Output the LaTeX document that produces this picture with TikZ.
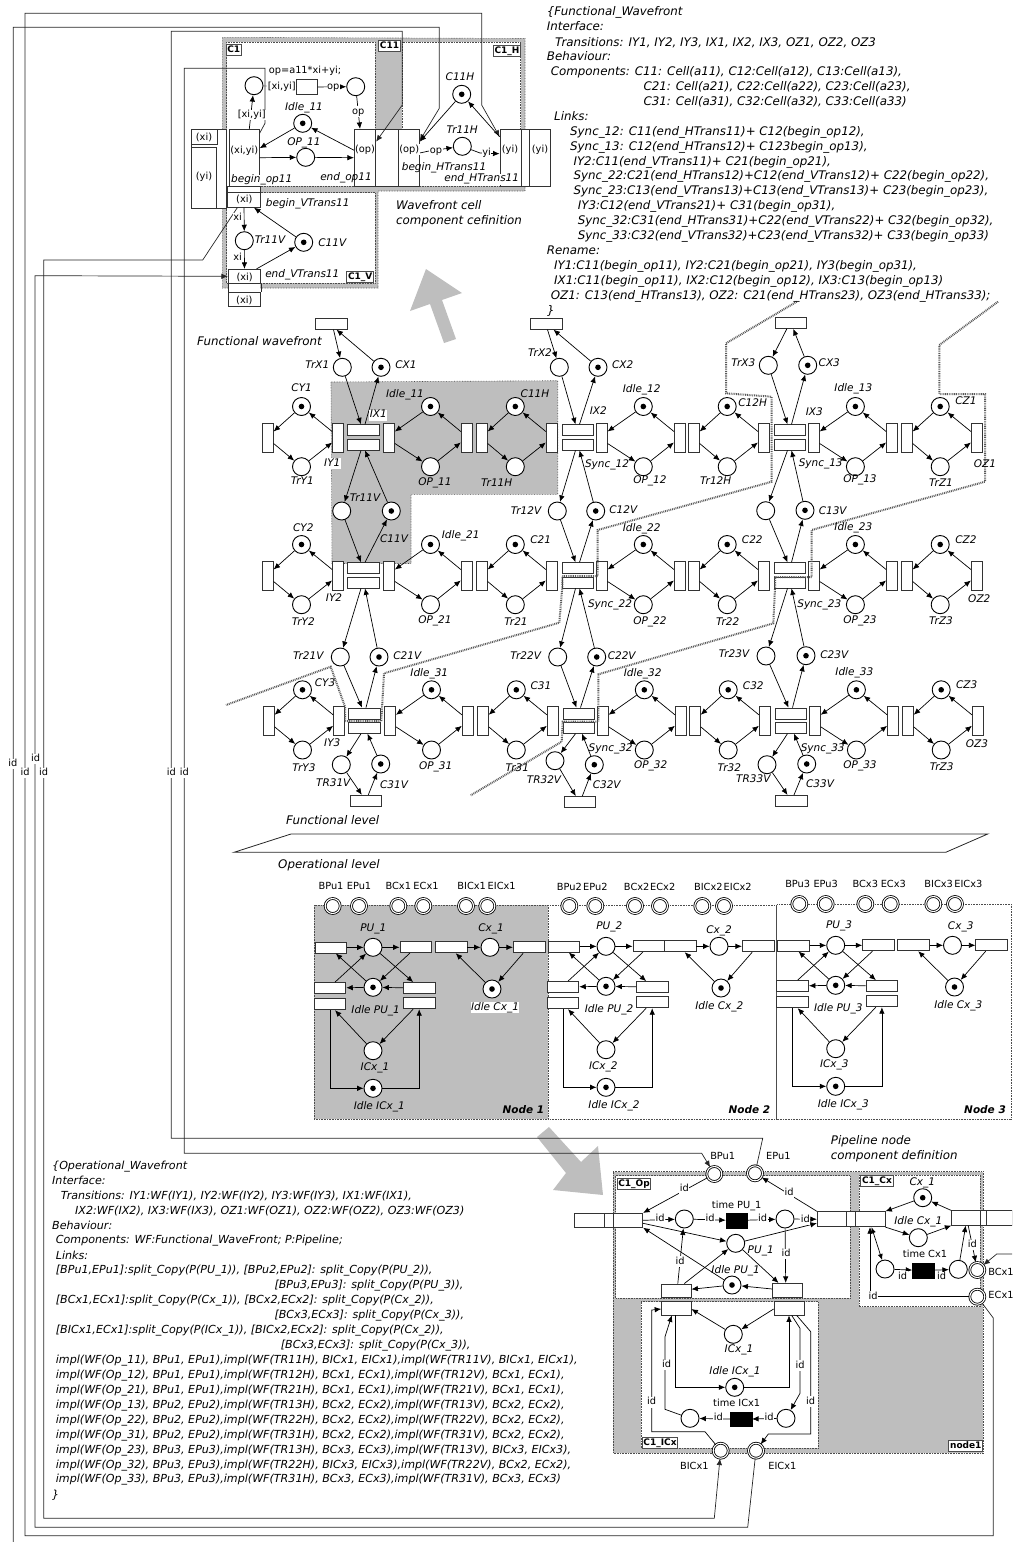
\documentclass[tikz,border=0pt]{standalone}
\usepackage{fontspec}
\setmainfont{DejaVu Sans}
\usetikzlibrary{arrows.meta}
\definecolor{bggray}{HTML}{BEBEBE}

\begin{document}
\begin{tikzpicture}[x=1pt,y=-1pt,
  pl/.style={circle,draw,fill=white,line width=0.9pt,minimum size=18pt,inner sep=0pt},
  tok/.style={pl,path picture={\fill[black] (path picture bounding box.center) circle (2.8pt);}},
  term/.style={circle,draw,fill=white,line width=0.8pt,double,double distance=1.1pt,minimum size=15pt,inner sep=0pt},
  bx/.style={rectangle,draw=black!80,fill=white,line width=0.8pt,inner sep=0pt},
  hbar/.style={bx,minimum width=31.7pt,minimum height=11pt},
  vbar/.style={bx,minimum width=11pt,minimum height=29pt},
  blk/.style={rectangle,fill=black,draw=black,inner sep=0pt,minimum width=21.7pt,minimum height=14.4pt},
  flow/.style={-{Latex[length=6.5pt,width=5.5pt]},line width=0.7pt},
  wire/.style={line width=0.8pt,draw=black!85},
  region/.style={draw=black!70,densely dotted,line width=0.6pt},
  nodeb/.style={draw=black!65,dash pattern=on 0.9pt off 0.9pt,line width=2pt},
  lab/.style={font=\fontsize{10.5}{12}\selectfont\itshape,inner sep=0.5pt,text height=7.8pt,text depth=2.2pt},
  up/.style={font=\fontsize{9.8}{11}\selectfont,inner sep=0.5pt,text height=7.4pt,text depth=2.2pt},
  idl/.style={up,fill=white},
  tag/.style={font=\fontsize{9}{10}\selectfont\bfseries,draw=black!70,fill=white,line width=0.9pt,inner sep=1.2pt,text height=7pt,text depth=1.6pt},
  txt/.style={font=\fontsize{11.85}{13}\selectfont\itshape,anchor=west,inner sep=0pt,text height=8.4pt,text depth=2.4pt},
  txtlow/.style={txt,font=\fontsize{11.1}{13}\selectfont\itshape}
]
  \useasboundingbox (0,0) rectangle (1012,1542);
  \clip (0,0) rectangle (1012,1542);

  % wavefront cell component
  \draw[region,fill=bggray] (222.3,37.3) -- (525,38.5) -- (525,191) -- (378,191) -- (378,288) -- (222.3,288) -- cycle;
  \draw[region,fill=white] (226.7,42.3) rectangle (375,186);
  \draw[region,fill=white] (402.3,42.3) rectangle (520.7,186);
  \draw[region,fill=white] (226.7,192.5) rectangle (375,283);
  \fill[bggray] (426,269) -- (462,293) -- (442,300) -- (456,339) -- (444,343) -- (430,304) -- (410,311) -- cycle;

  % gray cell of the wavefront
  \draw[region,fill=bggray] (331,382) -- (557.7,380.7) -- (557.7,494.3) -- (411,494.3) -- (411,563.5) -- (332,563.5) -- cycle;

  % pipeline nodes
  \draw[region,fill=bggray] (314,905) rectangle (548.3,1119.3);
  \draw[region] (548.3,905) rectangle (776.7,1119.3);
  \draw[region] (776.7,904.7) rectangle (1011.5,1119.3);
  \fill[bggray] (603,1195) -- (598,1146) -- (581,1162) -- (549,1127) -- (537,1137) -- (566,1173) -- (553,1190) -- cycle;

  % pipeline component
  \draw[region,fill=bggray] (613.3,1171.7) rectangle (983.3,1453);
  \draw[region,fill=white] (615.7,1175.7) rectangle (850,1298.3);
  \draw[region,fill=white] (859.3,1175) rectangle (980,1306.7);
  \draw[region,fill=white] (641,1301.7) rectangle (818.3,1448);

  % boxes of the cell
  \node[bx,minimum width=34.7pt,minimum height=79pt] (xiOuter) at (208.7,168.8) {};
  \node[bx,minimum width=26pt,minimum height=15.4pt] (xiLeft) at (204.3,137) {};
  \node[bx,minimum width=24.7pt,minimum height=60.6pt] (yiLeft) at (203.7,178) {};
  \node[bx,minimum width=30pt,minimum height=56.7pt] (xyBox) at (244.3,157.7) {};
  \node[bx,minimum width=21.4pt,minimum height=56.7pt] (opBoxA) at (365,157.7) {};
  \node[bx,minimum width=22.6pt,minimum height=56.7pt] (opBoxB) at (387,157.7) {};
  \node[bx,minimum width=21pt,minimum height=56.7pt] (opBoxC) at (408.8,157.7) {};
  \node[bx,minimum width=21.7pt,minimum height=56.7pt] (yiBoxA) at (510.8,157.7) {};
  \node[bx,minimum width=7.6pt,minimum height=56.7pt] (yiBoxB) at (525.5,157.7) {};
  \node[bx,minimum width=20.7pt,minimum height=56.7pt] (yiBoxC) at (539.7,157.7) {};
  \node[bx,minimum width=33.4pt,minimum height=6pt] (bvTop) at (244,189.7) {};
  \node[bx,minimum width=33.4pt,minimum height=14.6pt] (bvBox) at (244,200) {};
  \node[bx,minimum width=32.4pt,minimum height=14pt] (evBox) at (244.5,276.3) {};
  \node[bx,minimum width=32.4pt,minimum height=14pt] (evLow) at (244.5,299) {};
  \fill[white] (229,284) rectangle (260,291.5);
  \draw[wire] (evBox.south west) -- (evLow.north west);
  \draw[wire] (evBox.south east) -- (evLow.north east);
  \node[bx,minimum width=20.6pt,minimum height=14.3pt] (calcBox) at (307,87) {};

  \node[pl] (inPl) at (254,85.7) {};
  \node[pl] (opPl) at (355.7,86.7) {};
  \node[tok] (idleCell) at (302.7,123.3) {};
  \node[pl] (opCell) at (305.7,157.3) {};
  \node[tok] (hCap) at (461.7,94.3) {};
  \node[pl] (hTr) at (462.3,146.3) {};
  \node[pl] (vTr) at (244.3,240.7) {};
  \node[tok] (vCap) at (303.7,242.3) {};

  % long wires
  \coordinate (leftEnd) at (13.3,1542);
  \coordinate (rightEnd) at (1012,1254);
  \node[term] (tBPu) at (714.3,1174) {};
  \node[term] (tEPu) at (755,1173.3) {};
  \node[term] (tBCx) at (977.3,1270) {};
  \node[term] (tECx) at (977.3,1296.7) {};
  \node[term] (tBICx) at (720.7,1450.7) {};
  \node[term] (tEICx) at (756,1450.7) {};
  \draw[wire,flow] (leftEnd) -- (13.3,27.3) -- (439.3,27.3) -- (439.3,108.3) -- ([yshift=17pt]opBoxC.east);
  \draw[wire,flow] (tECx) -- (993.3,1318) -- (993.3,1535.7) -- (25,1535.7) -- (25,13.3) -- (481.7,13.3) -- (481.7,105) -- ([yshift=21pt]yiBoxA.west);
  \draw[wire,flow] (tEPu) -- (762.7,1138.3) -- (171.3,1138.3) -- (171.3,31.3) -- (402.3,31.3) -- (402.3,105) -- ([yshift=16pt]opBoxA.east);
  \draw[wire,flow] ([yshift=24.6pt]xyBox.east) -- (265,123.3) -- (265,68.3) -- (184.3,68.3) -- (184.3,1153.3) -- (701.7,1153.3) -- (tBPu);
  \draw[wire,flow] ([xshift=-6.7pt]bvBox.south) -- (202.7,260) -- (43.7,260) -- (43.7,1518.3) -- (714.3,1518.3) -- (tBICx);
  \draw[wire,flow] (tEICx) -- (747.7,1527.3) -- (35,1527.3) -- (35,275.7) -- (evBox.west);
  \draw[wire,flow] (rightEnd) -- (996.7,1254) -- (tBCx);

  % cell connectors
  \draw[flow] (idleCell) -- ([yshift=9.5pt]xyBox.east);
  \draw[flow] (xyBox.east) -- (opCell);
  \draw[flow] (opCell) -- (opBoxA.west);
  \draw[flow] ([yshift=7.5pt]opBoxA.west) -- (idleCell);
  \draw[flow] ([xshift=5pt]xyBox.north) -- (inPl);
  \draw (inPl) -- (calcBox);
  \draw[flow] (calcBox) -- (opPl);
  \draw[flow] (opPl) -- ([xshift=-5pt]opBoxA.north);
  \draw[flow] (hCap) -- ([yshift=16pt]opBoxC.east);
  \draw[flow] ([yshift=21pt]yiBoxA.west) -- (hCap);
  \draw[flow] ([yshift=4.7pt]opBoxC.east) -- (429,151) -- (hTr);
  \draw[flow] (hTr) -- (480,153) -- ([yshift=4pt]yiBoxA.west);
  \draw[flow] (bvBox) -- (vTr);
  \draw[flow] (vTr) -- (evBox);
  \draw[flow] ([xshift=12pt]evBox.north) -- (vCap);
  \draw[flow] (vCap) -- ([xshift=10pt]bvBox.south);

  % wavefront grid
  \foreach \rw/\ry/\rx in {1/437.5/0,2/575.5/0,3/720.8/1}{
    \foreach \cl/\ta/\pc/\tb in {1/267.7/301.5/338,2/389/430.5/466.7,3/481.8/515.3/551.7,4/601.7/643.3/679.8,5/693.8/727.2/763.8,6/813.8/855.4/892,7/906.8/940.2/976.8}{
      \node[vbar] (ta\rw\cl) at (\ta+\rx,\ry) {};
      \node[vbar] (tb\rw\cl) at (\tb+\rx,\ry) {};
      \node[tok] (pt\rw\cl) at (\pc+\rx,\ry-31) {};
      \node[pl] (pb\rw\cl) at (\pc+\rx,\ry+29.2) {};
      \draw[flow] (pt\rw\cl) -- ([yshift=6pt]ta\rw\cl.east);
      \draw[flow] ([yshift=-6pt]ta\rw\cl.east) -- (pb\rw\cl);
      \draw[flow] (pb\rw\cl) -- ([yshift=-5pt]tb\rw\cl.west);
      \draw[flow] ([yshift=6pt]tb\rw\cl.west) -- (pt\rw\cl);
    }
    \foreach \dc/\dx in {1/363.5,2/578,3/790}{
      \node[hbar] (dt\rw\dc) at (\dx+\rx,\ry-7.3) {};
      \node[hbar] (db\rw\dc) at (\dx+\rx,\ry+7) {};
    }
  }
  \foreach \cc/\xa/\ya/\xb/\yb/\tx/\ty/\sa/\sb in {1/342.3/367.3/381/367.3/331.5/323.8/2/5,2/559.3/367.3/598/367.3/546.5/323.8/1/7,3/768.3/365.3/807.7/365.3/790.8/323/-4/2.5}{
    \node[hbar] (tx\cc) at (\tx,\ty) {};
    \node[pl] (xp\cc) at (\xa,\ya) {};
    \node[tok] (xc\cc) at (\xb,\yb) {};
    \draw[flow] ([xshift=\sa pt]tx\cc.south) -- (xp\cc);
    \draw[flow] (xc\cc) -- ([xshift=\sb pt]tx\cc.south);
    \draw[flow] (xp\cc) -- ([xshift=-2.5pt]dt1\cc.north);
    \draw[flow] ([xshift=1.5pt]dt1\cc.north) -- (xc\cc);
  }
  \foreach \cc/\xa/\ya/\xb/\yb in {1/341.7/511/391.3/511,2/557.3/511/595.7/511,3/765.7/510.7/805/510.3}{
    \node[pl] (va\cc) at (\xa,\ya) {};
    \node[tok] (vc\cc) at (\xb,\yb) {};
    \draw[flow] ([xshift=-2.5pt]db1\cc.south) -- (va\cc);
    \draw[flow] (vc\cc) -- ([xshift=1.5pt]db1\cc.south);
    \draw[flow] (va\cc) -- ([xshift=-2.5pt]dt2\cc.north);
    \draw[flow] ([xshift=1.5pt]dt2\cc.north) -- (vc\cc);
  }
  \foreach \cc/\xa/\ya/\xb/\yb in {1/340.3/657/379/657,2/557.7/657/596.7/657,3/766/656/806/655.7}{
    \node[pl] (wa\cc) at (\xa,\ya) {};
    \node[tok] (wc\cc) at (\xb,\yb) {};
    \draw[flow] ([xshift=-2.5pt]db2\cc.south) -- (wa\cc);
    \draw[flow] (wc\cc) -- ([xshift=1.5pt]db2\cc.south);
    \draw[flow] (wa\cc) -- ([xshift=-2.5pt]dt3\cc.north);
    \draw[flow] ([xshift=1.5pt]dt3\cc.north) -- (wc\cc);
  }
  \foreach \cc/\xa/\ya/\xb/\yb/\bx/\by in {1/341.3/764.7/380.7/764/365.8/800.7,2/555/760.7/594.3/764.7/579.8/802,3/767/764.7/806.7/764/791.5/800.8}{
    \node[pl] (ya\cc) at (\xa,\ya) {};
    \node[tok] (yc\cc) at (\xb,\yb) {};
    \node[hbar] (by\cc) at (\bx,\by) {};
    \draw[flow] ([xshift=-3.5pt]db3\cc.south) -- (ya\cc);
    \draw[flow] (yc\cc) -- ([xshift=3pt]db3\cc.south);
    \draw[flow] (ya\cc) -- ([xshift=-4pt]by\cc.north);
    \draw[flow] ([xshift=2.5pt]by\cc.north) -- (yc\cc);
  }

  % node boundaries
  \draw[nodeb] (796.7,301.7) -- (726,343.3) -- (726,393.3) -- (771.7,396.7) -- (771.7,481.7) -- (597.7,530) -- (597.7,576) -- (562.3,576) -- (562.3,587) -- (559.3,622.7) -- (384,673.3) -- (381.3,721) -- (345,721) -- (345,706.7) -- (330.7,666.7) -- (226,705);
  \draw[nodeb] (998,301.7) -- (939.3,345) -- (939.3,394) -- (985,394) -- (985,481.7) -- (811.7,530) -- (811.7,577) -- (775,577) -- (775,588) -- (773.3,623.3) -- (598.3,674.3) -- (598.3,721.5) -- (562.7,721.5) -- (561.7,741.7) -- (470.7,795.3);

  % levels
  \draw[wire] (291,834) -- (987.7,834) -- (945.7,852.3) -- (234,852.3) -- cycle;

  % pipeline nodes at the operational level
  \foreach \n/\dx/\dy/\cdx in {1/0/0/0,2/233/-1/229,3/462.7/-2/462.5}{
    \begin{scope}[shift={(\dx,\dy)}]
      \node[hbar] (oa\n) at (330.8,947.6) {};
      \node[pl] (opu\n) at (373,947.3) {};
      \node[hbar] (ob\n) at (415.8,947.3) {};
      \node[tok] (oi\n) at (373,987.3) {};
      \node[hbar] (oe\n) at (330,988) {};
      \node[hbar] (of\n) at (419.2,988) {};
      \node[hbar] (og\n) at (330,1004.3) {};
      \node[hbar] (oh\n) at (419.2,1003.3) {};
      \node[pl] (oc\n) at (373,1050.7) {};
      \node[tok] (oj\n) at (373,1088.3) {};
      \draw[flow] (oa\n) -- (opu\n);
      \draw[flow] (opu\n) -- (ob\n);
      \draw[flow] ([xshift=-6pt]ob\n.south) -- (oi\n);
      \draw[flow] (opu\n) -- ([xshift=-6pt]of\n.north);
      \draw[flow] (oi\n) -- ([xshift=5pt]oa\n.south);
      \draw[flow] ([xshift=5pt]oe\n.north) -- (opu\n);
      \draw[flow] (of\n) -- (oi\n);
      \draw[flow] (oi\n) -- (oe\n);
      \draw[flow] (oc\n) -- ([xshift=5pt]og\n.south);
      \draw[flow] ([xshift=-6pt]oh\n.south) -- (oc\n);
      \draw[flow] (og\n.south) |- (oj\n);
      \draw[flow] (oj\n) -| (oh\n.south);
    \end{scope}
    \begin{scope}[shift={(\cdx,\dy)}]
      \node[hbar] (oq\n) at (451.2,947.3) {};
      \node[pl] (ocx\n) at (490,947.3) {};
      \node[hbar] (or\n) at (529.2,947.3) {};
      \node[tok] (ok\n) at (492,989) {};
      \draw[flow] (oq\n) -- (ocx\n);
      \draw[flow] (ocx\n) -- (or\n);
      \draw[flow] (ok\n) -- ([xshift=4.5pt]oq\n.south);
      \draw[flow] ([xshift=-6pt]or\n.south) -- (ok\n);
    \end{scope}
  }
  \foreach \tx/\ty [count=\i] in {332.7/906,359/906,398.3/906,423.3/906,466/906,487.3/906,569.3/906,595.3/906,635/906,660/906,702.3/906,724/906,799.3/904,825.7/904,865.3/904,890.7/904,933.3/904,955/904}{
    \node[term] (top\i) at (\tx,\ty) {};
  }

  % pipeline component, operation
  \node[bx,minimum width=30pt,minimum height=14pt] (lfA) at (589.3,1220.3) {};
  \node[bx,minimum width=9pt,minimum height=14pt] (lfB) at (608.8,1220.3) {};
  \node[bx,minimum width=29.4pt,minimum height=14pt] (lfC) at (628,1220.3) {};
  \node[bx,minimum width=29.4pt,minimum height=15pt] (mdA) at (832,1219.2) {};
  \node[bx,minimum width=8.3pt,minimum height=15pt] (mdB) at (850.8,1219.2) {};
  \node[bx,minimum width=30pt,minimum height=15pt] (mdC) at (870,1219.2) {};
  \node[bx,minimum width=29pt,minimum height=14.3pt] (rgA) at (966.2,1218) {};
  \node[bx,minimum width=5.3pt,minimum height=14.3pt] (rgB) at (983.3,1218) {};
  \node[bx,minimum width=26pt,minimum height=14.3pt] (rgC) at (999,1218) {};
  \node[pl] (timeIn) at (684.3,1219) {};
  \node[blk] (timePU) at (736.8,1220.5) {};
  \node[pl] (timeOut) at (785,1219) {};
  \node[pl] (puPl) at (735.7,1243.3) {};
  \node[tok] (idlePU) at (732,1285) {};
  \node[bx,minimum width=29.4pt,minimum height=13.7pt] (opA) at (676.3,1290.8) {};
  \node[bx,minimum width=29.6pt,minimum height=14.4pt] (opB) at (787.5,1290.5) {};
  \node[bx,minimum width=29.4pt,minimum height=14pt] (opC) at (676.3,1308) {};
  \node[bx,minimum width=30pt,minimum height=14pt] (opD) at (789,1308) {};
  \node[pl] (icxPl) at (733.3,1334.3) {};
  \node[tok] (idleICx) at (734.7,1387.3) {};
  \node[pl] (ticOut) at (690,1418.3) {};
  \node[blk] (timeIC) at (741,1419.2) {};
  \node[pl] (ticIn) at (786,1418.3) {};
  \node[tok] (cxPl) at (922.7,1197.7) {};
  \node[pl] (idleCx) at (918.3,1237.7) {};
  \node[pl] (tcxIn) at (885,1269) {};
  \node[blk] (timeCx) at (923.3,1270.5) {};
  \node[pl] (tcxOut) at (958.3,1269.3) {};

  \draw[flow] (tBPu) -- (lfC.north east);
  \draw[flow] (mdA.north west) -- (tEPu);
  \draw[flow] (lfC.east) -- (timeIn);
  \draw[flow] (timeIn) -- (timePU);
  \draw[flow] (timePU) -- (timeOut);
  \draw[flow] (timeOut) -- (mdA.west);
  \draw[flow] ([yshift=-3pt]lfC.east) -- (puPl);
  \draw[flow] (puPl) -- ([yshift=-4pt]mdA.west);
  \draw[flow] (idlePU) -- (lfC.south east);
  \draw[flow] ([xshift=1.5pt]opA.north) -- (timeIn);
  \draw[flow] ([xshift=8pt]opA.north) -- (puPl);
  \draw[flow] (idlePU) -- (opA);
  \draw[flow] (opB) -- (idlePU);
  \draw[flow] (puPl) -- ([xshift=-9pt]opB.north);
  \draw[flow] (timeOut) -- ([xshift=-1.8pt]opB.north);
  \draw[flow] (icxPl) -- ([yshift=-1pt]opC.east);
  \draw[flow] ([yshift=-1pt]opD.west) -- (icxPl);
  \draw[flow] ([xshift=-1pt]opC.south) |- (idleICx);
  \draw[flow] (idleICx) -| (opD.south);
  \draw[flow] (tBICx) -- (705,1431.7) -- (651.7,1431.7) -- (651.7,1310) -- ([yshift=-1pt]opC.west);
  \draw[flow] (ticOut) -- (665,1409.3) -- (665,1336.7) -- ([xshift=-4.5pt]opC.south);
  \draw[flow] ([xshift=2.7pt]opD.south) -- (800,1328.3) -- (800,1393.3) -- (ticIn);
  \draw[flow] ([xshift=7.7pt]opD.south) -- (810.7,1331.7) -- (810.7,1434) -- (768.3,1434) -- (tEICx);
  \draw[flow] (ticIn) -- (timeIC);
  \draw[flow] (timeIC) -- (ticOut);
  \draw[flow] (mdC.south east) -- (idleCx);
  \draw[flow] (cxPl) -- (mdC.north east);
  \draw[flow] (rgA.north west) -- (cxPl);
  \draw[flow] (idleCx) -- (rgA.south west);
  \draw[{Latex[length=6pt,width=5pt]}-{Latex[length=6pt,width=5pt]},line width=0.7pt] ([xshift=1.5pt]mdC.south) -- (tcxIn);
  \draw[flow] (tECx) -- (870,1296.7) -- ([xshift=0pt]mdC.south);
  \draw[flow] (tcxIn) -- (timeCx);
  \draw[flow] (timeCx) -- (tcxOut);
  \draw[flow] (tcxOut) -- ([xshift=-0.5pt]rgA.south);
  \draw[flow] ([xshift=2pt]rgA.south) -- (tBCx);

  % upright labels
  \foreach \lx/\ly/\ltxt [count=\i] in {305/70.7/op=a11*xi+yi;,281.7/87.3/{[xi,yi]},251.7/115/{[xi,yi]},333.3/86.7/op,358.3/111.7/op,244.3/150.7/{(xi,yi)},365/149.7/(op),409.3/149.7/(op),510/150.3/(yi),540/150/(yi),204/137.7/(xi),204/177.3/(yi),244.3/200/(xi),244.7/277.7/(xi),244.3/300.7/(xi),436/151/op,486.7/153/yi,237.7/218.3/xi,237.7/257.7/xi}{
    \node[idl] (cellTxt\i) at (\lx,\ly) {\ltxt};
  }
  \foreach \lx/\ly/\ltxt [count=\i] in {331/886.7/BPu1,359/886.7/EPu1,398.3/886.7/BCx1,426/886.7/ECx1,471.7/886.7/BICx1,501.7/886.7/EICx1,569.3/887.7/BPu2,595.3/887.7/EPu2,636.7/887.7/BCx2,662.7/887.7/ECx2,708.3/887.7/BICx2,737.7/887.7/EICx2,797.7/885/BPu3,825.7/885/EPu3,865.3/885/BCx3,893.3/885/ECx3,938.7/885/BICx3,968.3/885/EICx3,722.7/1156.7/BPu1,778.3/1156.7/EPu1,1001/1273/BCx1,1001/1295.7/ECx1,694.3/1467.3/BICx1,782.3/1467.3/EICx1,736.7/1206/time PU\_1,925/1255/time Cx1,736.7/1404/time ICx1}{
    \node[up] (termTxt\i) at (\lx,\ly) {\ltxt};
  }
  \foreach \lx/\ly [count=\i] in {12.8/764,25/773,35.5/759,43.7/773,171.3/773,184.3/773,684.3/1189,789/1193.3,660/1219.3,710/1219.3,762.7/1219.3,805.3/1220,680/1261.7,786/1254,666.7/1365,651.7/1402.3,800/1365.7,810.7/1401.7,769/1418.3,718.3/1418.3,873/1296.7,902.7/1276.7,941.7/1277.3,972.3/1245}{
    \node[idl] (idTxt\i) at (\lx,\ly) {id};
  }

  % italic labels
  \foreach \lx/\ly/\ltxt [count=\i] in {304/107.3/Idle\_11,304/142.7/OP\_11,346/177.7/end\_op11,270/241/Tr11V,332.3/243.3/C11V,460/77.3/C11H,462.3/131/Tr11H,444/167.3/begin\_HTrans11,317.3/366/TrX1,406/366/CX1,301.7/388.3/CY1,405/394.3/Idle\_11,535/395/C11H,302.3/481.7/TrY1,435/482.3/OP\_11,496.7/484/Tr11H,365/498.3/Tr11V,394/539.3/C11V,303.3/528.3/CY2,460.7/535.7/Idle\_21,540.7/541/C21,540/353.3/TrX2,622.7/366/CX2,598.3/411.7/IX2,607/465/Sync\_12,526/512/Tr12V,623.3/510.7/C12V,641.7/389.3/Idle\_12,752.7/403.3/C12H,650/481/OP\_12,715.7/481.7/Tr12H,743.3/364/TrX3,829.3/364/CX3,814.3/412.7/IX3,853.3/389/Idle\_13,966/401.7/CZ1,820.7/464/Sync\_13,860/480/OP\_13,941/483.3/TrZ1,985/465/OZ1,832.7/511.3/C13V,641.7/528.3/Idle\_22,752.3/541/C22,853.3/527.3/Idle\_23,966/540.7/CZ2,334/599/IY2,303.3/622.3/TrY2,435/621/OP\_21,516/622.3/Tr21,610/604.3/Sync\_22,308.3/656.3/Tr21V,407.3/656.3/C21V,525.7/656.3/Tr22V,621.7/656.7/C22V,325/684/CY3,429.3/673.3/Idle\_31,541/686.7/C31,332.3/743.7/IY3,304/768.3/TrY3,435.7/766.7/OP\_31,517.3/768.3/Tr31,333.3/783.3/TR31V,394/785.3/C31V,544/780.7/TR32V,606.7/786/C32V,610.7/748.3/Sync\_32,979.3/600/OZ2,819.3/604.7/Sync\_23,650/622/OP\_22,727.7/622.3/Tr22,860/621/OP\_23,941/621.7/TrZ3,734/655/Tr23V,834.3/656/C23V,642.7/673.3/Idle\_32,753.3/686.7/C32,854.3/672.3/Idle\_33,966.7/685.7/CZ3,977/745/OZ3,822.7/748.3/Sync\_33,650.7/766/OP\_32,729.3/768.3/Tr32,860/765.7/OP\_33,941.7/767.3/TrZ3,753.3/779.3/TR33V,820/785/C33V,373.3/929/PU\_1,491/929/Cx\_1,375.7/1011/Idle PU\_1,375/1067.3/ICx\_1,379.3/1106.7/Idle ICx\_1,609.3/926.7/PU\_2,719/931/Cx\_2,609/1010/Idle PU\_2,719.3/1006.7/Idle Cx\_2,603.3/1066.7/ICx\_2,614/1105.7/Idle ICx\_2,839/926/PU\_3,960.7/926.7/Cx\_3,838.3/1009/Idle PU\_3,958.3/1005.7/Idle Cx\_3,834.3/1065/ICx\_3,843.3/1105/Idle ICx\_3,760.7/1250.7/PU\_1,735.7/1270.7/Idle PU\_1,922.3/1182.3/Cx\_1,918.3/1221.7/Idle Cx\_1,739/1350/ICx\_1,735/1371.7/Idle ICx\_1}{
    \node[lab] (lbl\i) at (\lx,\ly) {\ltxt};
  }
  % labels that cover what lies below them
  \foreach \lx/\ly/\ltxt [count=\i] in {261.7/180/begin\_op11,307.7/203.3/begin\_VTrans11,302.3/275/end\_VTrans11,481.7/179/end\_HTrans11,378.3/415/IX1,332.3/463.7/IY1,495/1007.3/Idle Cx\_1}{
    \node[lab,fill=white] (lblW\i) at (\lx,\ly) {\ltxt};
  }
  \foreach \lx/\ly/\ltxt [count=\i] in {523.3/1110.7/Node 1,749.3/1110.7/Node 2,985/1110.7/Node 3}{
    \node[lab,font=\fontsize{10.5}{12}\selectfont\bfseries\itshape] (nodeName\i) at (\lx,\ly) {\ltxt};
  }
  \foreach \lx/\ly/\ltxt [count=\i] in {233.8/49.8/C1,389.5/46.2/C11,507/50.5/C1\_H,360.2/276.7/C1\_V,634/1183.6/C1\_Op,877/1180.5/C1\_Cx,660/1443/C1\_ICx,965.8/1445.8/node1}{
    \node[tag] (tag\i) at (\lx,\ly) {\ltxt};
  }
  \foreach \lx/\ly/\ltxt [count=\i] in {396/206/Wavefront cell,396/221/component cefinition,830.7/1141.7/Pipeline node,830.7/1156/component definition,197/342/Functional wavefront,286/821/Functional level,278/865/Operational level}{
    \node[txt] (note\i) at (\lx,\ly) {\ltxt};
  }

  % functional wavefront text
  \foreach \lx/\ly/\ltxt [count=\i] in {
    546.7/12.7/\{Functional\_Wavefront,
    546.7/27.7/Interface:,
    555/43/{Transitions: IY1, IY2, IY3, IX1, IX2, IX3, OZ1, OZ2, OZ3},
    546.7/57.7/Behaviour:,
    550.7/72.7/{Components: C11: Cell(a11), C12:Cell(a12), C13:Cell(a13),},
    643.3/87.3/{C21: Cell(a21), C22:Cell(a22), C23:Cell(a23),},
    643.3/102.3/{C31: Cell(a31), C32:Cell(a32), C33:Cell(a33)},
    554/117.3/Links:,
    570/132.3/{Sync\_12: C11(end\_HTrans11)+ C12(begin\_op12),},
    570/147/{Sync\_13: C12(end\_HTrans12)+ C123begin\_op13),},
    573.3/162/{IY2:C11(end\_VTrans11)+ C21(begin\_op21),},
    573.3/176.7/{Sync\_22:C21(end\_HTrans12)+C12(end\_VTrans12)+ C22(begin\_op22),},
    573.3/191.7/{Sync\_23:C13(end\_VTrans13)+C13(end\_VTrans13)+ C23(begin\_op23),},
    577.7/206.7/{IY3:C12(end\_VTrans21)+ C31(begin\_op31),},
    577.7/221.7/{Sync\_32:C31(end\_HTrans31)+C22(end\_VTrans22)+ C32(begin\_op32),},
    577.7/236.3/{Sync\_33:C32(end\_VTrans32)+C23(end\_VTrans32)+ C33(begin\_op33)},
    546.7/251.3/Rename:,
    554/266.3/{IY1:C11(begin\_op11), IY2:C21(begin\_op21), IY3(begin\_op31),},
    554/281/{IX1:C11(begin\_op11), IX2:C12(begin\_op12), IX3:C13(begin\_op13)},
    550.7/296/{OZ1: C13(end\_HTrans13), OZ2: C21(end\_HTrans23), OZ3(end\_HTrans33);},
    547/311/\}}{
    \node[txt] (funcTxt\i) at (\lx,\ly) {\ltxt};
  }

  % operational wavefront text
  \foreach \lx/\ly/\ltxt [count=\i] in {
    52/1166/\{Operational\_Wavefront,
    52/1181/Interface:,
    60.7/1196/{Transitions: IY1:WF(IY1), IY2:WF(IY2), IY3:WF(IY3), IX1:WF(IX1),},
    75/1211/{IX2:WF(IX2), IX3:WF(IX3), OZ1:WF(OZ1), OZ2:WF(OZ2), OZ3:WF(OZ3)},
    52/1226/Behaviour:,
    55.7/1240.7/{Components: WF:Functional\_WaveFront; P:Pipeline;},
    55.7/1256/Links:,
    55.7/1270.7/{[BPu1,EPu1]:split\_Copy(P(PU\_1)),  [BPu2,EPu2]: split\_Copy(P(PU\_2)),},
    274.3/1285.7/{[BPu3,EPu3]: split\_Copy(P(PU\_3)),},
    55.7/1300.7/{[BCx1,ECx1]:split\_Copy(P(Cx\_1)), [BCx2,ECx2]: split\_Copy(P(Cx\_2)),},
    274.3/1315.7/{[BCx3,ECx3]: split\_Copy(P(Cx\_3)),},
    55.7/1330.3/{[BICx1,ECx1]:split\_Copy(P(ICx\_1)), [BICx2,ECx2]: split\_Copy(P(Cx\_2)),},
    280.7/1345.7/{[BCx3,ECx3]: split\_Copy(P(Cx\_3)),},
    55.7/1360/{impl(WF(Op\_11), BPu1, EPu1),impl(WF(TR11H), BICx1, EICx1),impl(WF(TR11V), BICx1, EICx1),},
    55.7/1375/{impl(WF(Op\_12), BPu1, EPu1),impl(WF(TR12H), BCx1, ECx1),impl(WF(TR12V), BCx1, ECx1),},
    55.7/1390/{impl(WF(Op\_21), BPu1, EPu1),impl(WF(TR21H), BCx1, ECx1),impl(WF(TR21V), BCx1, ECx1),},
    55.7/1405/{impl(WF(Op\_13), BPu2, EPu2),impl(WF(TR13H), BCx2, ECx2),impl(WF(TR13V), BCx2, ECx2),},
    55.7/1420/{impl(WF(Op\_22), BPu2, EPu2),impl(WF(TR22H), BCx2, ECx2),impl(WF(TR22V), BCx2, ECx2),},
    55.7/1435/{impl(WF(Op\_31), BPu2, EPu2),impl(WF(TR31H), BCx2, ECx2),impl(WF(TR31V), BCx2, ECx2),},
    55.7/1450/{impl(WF(Op\_23), BPu3, EPu3),impl(WF(TR13H), BCx3, ECx3),impl(WF(TR13V), BICx3, EICx3),},
    55.7/1465/{impl(WF(Op\_32), BPu3, EPu3),impl(WF(TR22H), BICx3, EICx3),impl(WF(TR22V), BCx2, ECx2),},
    55.7/1479/{impl(WF(Op\_33), BPu3, EPu3),impl(WF(TR31H), BCx3, ECx3),impl(WF(TR31V), BCx3, ECx3)},
    52/1495/\}}{
    \node[txtlow] (operTxt\i) at (\lx,\ly) {\ltxt};
  }
\end{tikzpicture}
\end{document}
